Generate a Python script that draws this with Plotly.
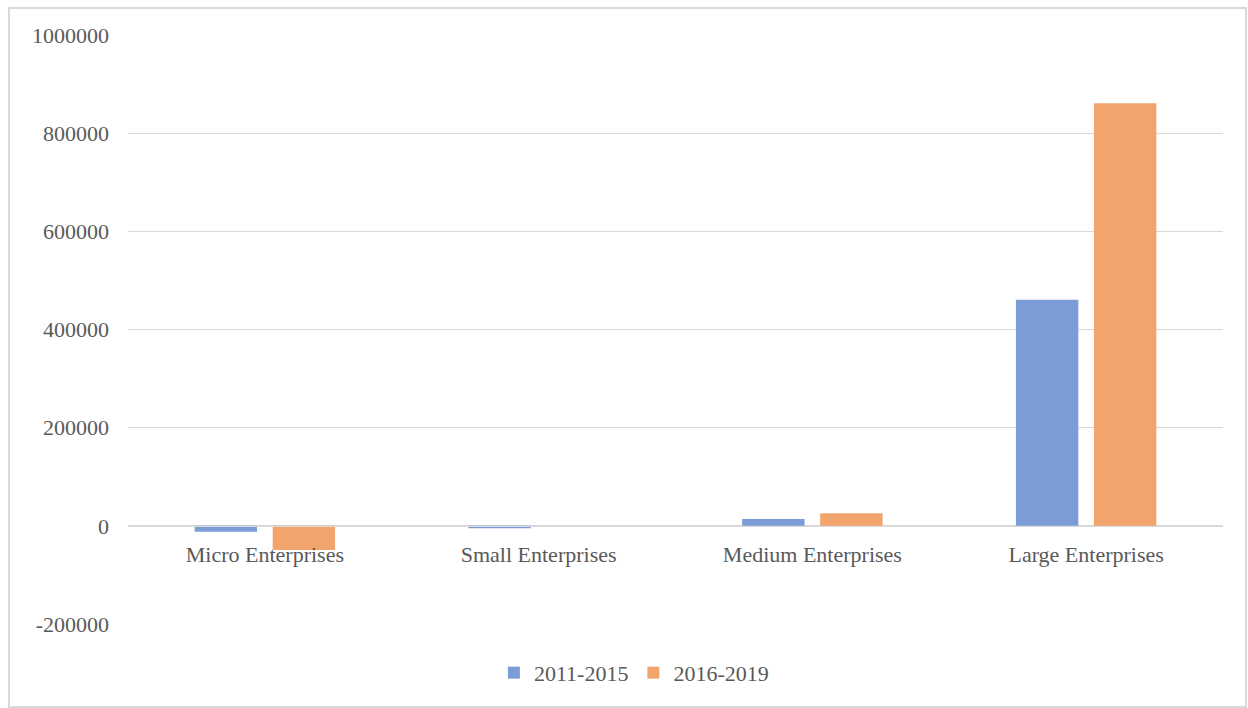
import plotly.graph_objects as go

categories = ["Micro Enterprises", "Small Enterprises", "Medium Enterprises", "Large Enterprises"]
period_2011_2015 = [-12000, -5000, 14000, 460500]
period_2016_2019 = [-49000, 0, 25500, 861000]
y_tick_values = [-200000, 0, 200000, 400000, 600000, 800000, 1000000]
y_tick_labels = ["-200000", "0", "200000", "400000", "600000", "800000", "1000000"]

Y_MIN, Y_MAX = -200000, 1000000
FONT = "Liberation Serif"
TEXT_GRAY = "#595959"
GRID = "#d9d9d9"

fig = go.Figure()
fig.add_trace(go.Bar(name="2011-2015", x=categories, y=period_2011_2015,
                     marker=dict(color="#7b9dd6", line=dict(width=0))))
fig.add_trace(go.Bar(name="2016-2019", x=categories, y=period_2016_2019,
                     marker=dict(color="#f1a46c", line=dict(width=0))))

# category axis sits on the zero line
zero_pos = (0 - Y_MIN) / (Y_MAX - Y_MIN)

fig.update_layout(
    width=1248, height=708,
    margin=dict(l=128, r=25, t=35, b=84),
    paper_bgcolor="white", plot_bgcolor="white",
    barmode="group", bargap=0.43, bargroupgap=0.2,
    font=dict(family=FONT, color=TEXT_GRAY, size=22),
    showlegend=True,
    legend=dict(orientation="h", x=0.462, xanchor="center", y=-0.083, yanchor="middle",
                font=dict(family=FONT, size=22, color=TEXT_GRAY),
                itemwidth=30, traceorder="normal"),
    xaxis=dict(anchor="free", position=zero_pos, showline=True, linecolor=GRID, linewidth=1,
               showgrid=False, ticks="", tickfont=dict(family=FONT, size=22, color=TEXT_GRAY),
               ticklabelstandoff=9),
    yaxis=dict(range=[Y_MIN, Y_MAX], tickvals=y_tick_values, ticktext=y_tick_labels,
               showgrid=True, gridcolor=GRID, gridwidth=1, zeroline=False, showline=False,
               ticks="", ticklabelstandoff=18,
               tickfont=dict(family=FONT, size=22, color=TEXT_GRAY)),
)

# outer chart frame
fig.add_shape(type="rect", xref="paper", yref="paper",
              x0=(9 - 128) / 1095, x1=(1246 - 128) / 1095,
              y0=(624 - 707) / 589, y1=(624 - 8) / 589,
              line=dict(color=GRID, width=2), layer="below")

fig.write_html("out.html")
